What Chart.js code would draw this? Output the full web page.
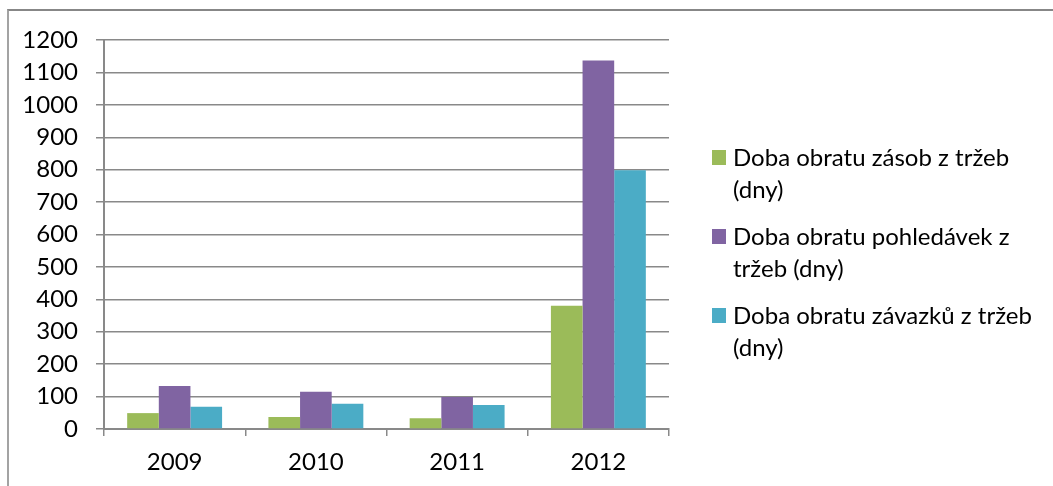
<!DOCTYPE html>
<html lang="cs">
<head>
<meta charset="utf-8">
<title>Doba obratu</title>
<script src="https://cdn.jsdelivr.net/npm/chart.js@4/dist/chart.umd.min.js"></script>
<style>
  html, body { margin: 0; padding: 0; background: #fff; overflow: hidden; }
  .wrap { position: relative; width: 1053px; height: 486px; }
  .frame {
    position: absolute; left: 7px; top: 9px; width: 1200px; height: 600px;
    border-left: 2px solid #a3a3a3; border-top: 2px solid #878787;
  }
  canvas { position: absolute; left: 0; top: 0; }
</style>
</head>
<body>
<div class="wrap">
  <div class="frame"></div>
  <canvas id="myChart" width="1053" height="486"></canvas>
</div>
<script>
const years = ['2009', '2010', '2011', '2012'];
const zasoby = [49, 37, 33, 380];
const pohledavky = [133, 115, 99, 1137];
const zavazky = [69, 78, 74, 798];

const seriesLabels = [
  ['Doba obratu zásob z tržeb', '(dny)'],
  ['Doba obratu pohledávek z', 'tržeb (dny)'],
  ['Doba obratu závazků z tržeb', '(dny)'],
];
const seriesColors = ['#9bbb59', '#8064a2', '#4bacc6'];

const FONT = 'Lato, "Open Sans", sans-serif';
const FONT_SIZE = 24;
const AXIS_GRAY = '#898989';

// legend on the right, two lines per entry
const sideLegend = {
  id: 'sideLegend',
  afterDraw(chart) {
    const { ctx } = chart;
    ctx.save();
    ctx.font = `${FONT_SIZE}px ${FONT}`;
    ctx.textBaseline = 'middle';
    ctx.textAlign = 'left';
    chart.data.datasets.forEach((ds, i) => {
      const y0 = 157 + i * 79;
      ctx.fillStyle = ds.backgroundColor;
      ctx.fillRect(712, y0 - 7, 14, 15);
      ctx.fillStyle = '#000';
      ds.label.forEach((line, j) => {
        ctx.fillText(line, 733, y0 + 1 + j * 32);
      });
    });
    ctx.restore();
  },
};

const ctx = document.getElementById('myChart').getContext('2d');
const chart = new Chart(ctx, {
  type: 'bar',
  data: {
    labels: years,
    datasets: [zasoby, pohledavky, zavazky].map((values, i) => ({
      label: seriesLabels[i],
      data: values,
      backgroundColor: seriesColors[i],
      borderWidth: 0,
      categoryPercentage: 0.672,
      barPercentage: 1.0,
    })),
  },
  options: {
    responsive: false,
    animation: false,
    layout: { padding: { left: 0, top: 40, right: 384, bottom: 0 } },
    plugins: {
      legend: { display: false },
      tooltip: { enabled: false },
    },
    scales: {
      x: {
        grid: {
          offset: true,
          drawOnChartArea: false,
          color: AXIS_GRAY,
          lineWidth: 1.5,
          tickLength: 7,
        },
        border: { color: AXIS_GRAY, width: 2 },
        ticks: { color: '#000', font: { family: FONT, size: FONT_SIZE }, padding: 12 },
        afterFit(scale) { scale.height = 57; },
      },
      y: {
        min: 0,
        max: 1200,
        ticks: {
          stepSize: 100,
          color: '#000',
          font: { family: FONT, size: FONT_SIZE },
          padding: 18,
          callback: (value) => String(value),
        },
        grid: { color: AXIS_GRAY, lineWidth: 1.5, tickLength: 8 },
        border: { color: AXIS_GRAY, width: 2 },
        afterFit(scale) { scale.width = 104; },
      },
    },
  },
  plugins: [sideLegend],
});
</script>
</body>
</html>
